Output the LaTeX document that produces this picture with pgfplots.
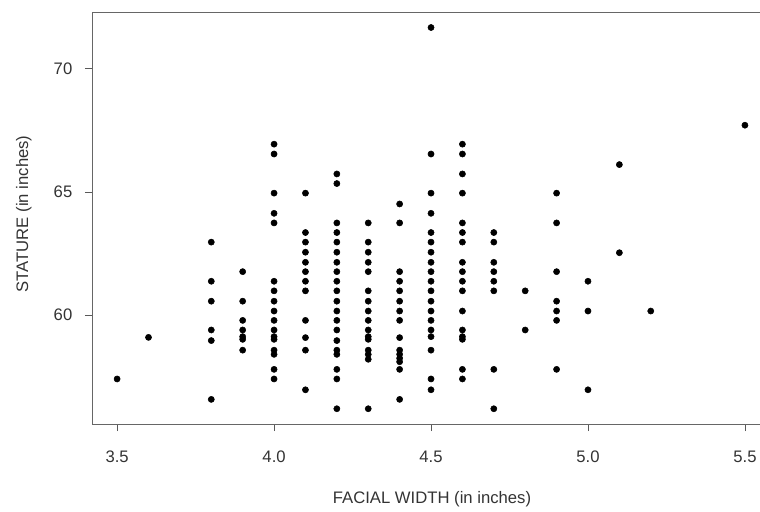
\documentclass[border=0pt]{standalone}
\usepackage{pgfplots}
\pgfplotsset{compat=1.18}
\usepackage{fontspec}
\setmainfont{Liberation Sans}

\begin{document}
\begin{tikzpicture}
\begin{axis}[
    width=501pt, height=309pt, scale only axis,
    xmin=3.42, xmax=5.548,
    ymin=55.57, ymax=72.31,
    xtick={3.5,4.0,4.5,5.0,5.5},
    ytick={60,65,70},
    xtick pos=bottom, ytick pos=left,
    tick align=outside,
    major tick length=5.25pt,
    tick style={black!65, line width=0.6pt},
    axis line style={draw=none},
    xticklabel style={/pgf/number format/fixed, /pgf/number format/fixed zerofill, /pgf/number format/precision=1, yshift=-11.5pt},
    yticklabel style={xshift=-6pt},
    /pgf/number format/assume math mode=true,
    font=\fontsize{12.5}{14}\selectfont,
    tick label style={black!80},
    label style={black!80},
    xlabel={FACIAL WIDTH (in inches)},
    ylabel={STATURE (in inches)},
    xlabel style={at={(axis description cs:0.509,-0.182)}, anchor=center},
    ylabel style={at={(axis description cs:-0.102,0.51)}, anchor=center, rotate=0},
]
\draw[black!60, line width=0.7pt] (rel axis cs:1,1) -- (rel axis cs:0,1) -- (rel axis cs:0,0) -- (rel axis cs:1,0);
\addplot[only marks, mark=*, mark size=2.3pt, black] coordinates {
(3.5,57.40) (3.6,59.09)
(3.8,62.96) (3.8,61.37) (3.8,60.56) (3.8,59.39) (3.8,58.96) (3.8,56.57)
(3.9,61.76) (3.9,60.56) (3.9,59.78) (3.9,59.39) (3.9,59.12) (3.9,59.01) (3.9,58.57)
(4.0,66.94) (4.0,66.54) (4.0,64.95) (4.0,64.13) (4.0,63.74) (4.0,61.37) (4.0,60.98) (4.0,60.56) (4.0,60.16) (4.0,59.78) (4.0,59.39) (4.0,59.12) (4.0,59.01) (4.0,58.57) (4.0,58.40) (4.0,57.79) (4.0,57.40)
(4.1,64.95) (4.1,63.35) (4.1,62.96) (4.1,62.55) (4.1,62.14) (4.1,61.76) (4.1,61.37) (4.1,60.98) (4.1,59.78) (4.1,59.08) (4.1,58.57) (4.1,56.96)
(4.2,65.73) (4.2,65.34) (4.2,63.74) (4.2,63.35) (4.2,62.96) (4.2,62.55) (4.2,62.14) (4.2,61.76) (4.2,61.37) (4.2,60.98) (4.2,60.56) (4.2,60.16) (4.2,59.78) (4.2,59.39) (4.2,58.96) (4.2,58.57) (4.2,58.40) (4.2,57.79) (4.2,57.40) (4.2,56.19)
(4.3,63.74) (4.3,62.96) (4.3,62.55) (4.3,62.14) (4.3,61.76) (4.3,60.98) (4.3,60.56) (4.3,60.16) (4.3,59.78) (4.3,59.39) (4.3,59.12) (4.3,59.01) (4.3,58.57) (4.3,58.40) (4.3,58.20) (4.3,56.19)
(4.4,64.51) (4.4,63.74) (4.4,61.76) (4.4,61.37) (4.4,60.98) (4.4,60.56) (4.4,60.16) (4.4,59.78) (4.4,59.08) (4.4,58.57) (4.4,58.40) (4.4,58.24) (4.4,58.10) (4.4,57.79) (4.4,56.57)
(4.5,71.68) (4.5,66.54) (4.5,64.95) (4.5,64.13) (4.5,63.35) (4.5,62.96) (4.5,62.55) (4.5,62.14) (4.5,61.76) (4.5,61.37) (4.5,60.98) (4.5,60.56) (4.5,60.16) (4.5,59.78) (4.5,59.39) (4.5,59.12) (4.5,58.57) (4.5,57.40) (4.5,56.96)
(4.6,66.94) (4.6,66.54) (4.6,65.73) (4.6,64.95) (4.6,63.74) (4.6,63.35) (4.6,62.96) (4.6,62.14) (4.6,61.76) (4.6,61.37) (4.6,60.98) (4.6,60.16) (4.6,59.39) (4.6,59.12) (4.6,59.01) (4.6,57.79) (4.6,57.40)
(4.7,63.35) (4.7,62.96) (4.7,62.14) (4.7,61.76) (4.7,61.37) (4.7,60.98) (4.7,57.79) (4.7,56.19)
(4.8,60.98) (4.8,59.39)
(4.9,64.95) (4.9,63.74) (4.9,61.76) (4.9,60.56) (4.9,60.16) (4.9,59.78) (4.9,57.79)
(5.0,61.37) (5.0,60.16) (5.0,56.96)
(5.1,66.11) (5.1,62.53)
(5.2,60.16)
(5.5,67.71)
};
\end{axis}
\pgfresetboundingbox
\path[use as bounding box] (-69pt,-65.25pt) rectangle (501pt,318pt);
\end{tikzpicture}
\end{document}
